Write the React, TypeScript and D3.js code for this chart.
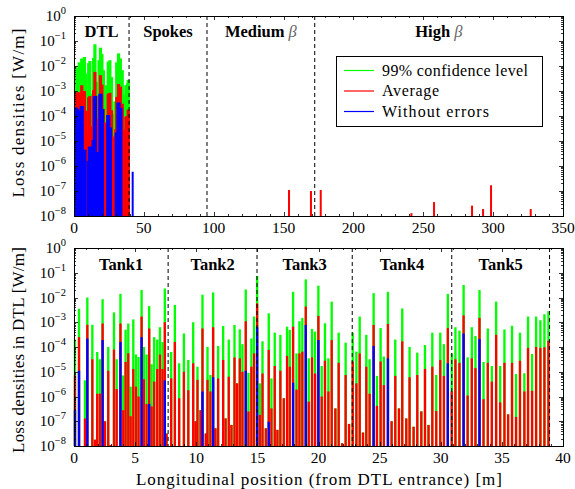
import React from "react";
import * as d3 from "d3";

// ---- DTL bars (bottom panel, also drawn in top panel) ----
const dtlPos = [
  0.08, 0.41, 0.9, 1.09, 1.5, 1.72, 1.9, 2.12, 2.34, 2.53, 2.8, 3.0, 3.27, 3.49, 3.8, 4.03, 4.22, 4.44, 4.63, 4.85,
  5.07, 5.28, 5.53, 5.72, 5.94, 6.15, 6.35, 6.56, 6.81, 7.03, 7.24, 7.43, 7.57,
  7.95, 8.25, 8.6, 8.99, 9.35, 9.75, 9.94, 10.1, 10.35, 10.51, 10.78, 10.92, 11.16, 11.38, 11.57, 11.79, 12.2,
  12.4, 12.66, 12.88, 13.13, 13.34, 13.56, 13.78, 14.05, 14.27, 14.51, 14.73, 14.98,
  15.2, 15.42, 15.69, 15.93, 16.15, 16.42, 16.64, 16.88, 17.16, 17.43, 17.65, 17.92, 18.2, 18.44, 18.68, 18.96,
  19.2, 19.47, 19.72, 19.99, 20.26, 20.53, 20.81, 21.08, 21.38, 21.65, 21.93, 22.22, 22.5,
  22.8, 23.1, 23.37, 23.64, 23.91, 24.18, 24.51, 24.78, 25.08, 25.35, 25.68, 25.98, 26.28, 26.58, 26.85, 27.18,
  27.45, 27.78, 28.08, 28.41, 28.71, 29.0, 29.31, 29.63, 29.96, 30.26, 30.58, 30.9,
  31.2, 31.53, 31.87, 32.2, 32.54, 32.84, 33.17, 33.5, 33.85, 34.18, 34.53, 34.86, 35.21, 35.51, 35.83, 36.16,
  36.48, 36.84, 37.14, 37.47, 37.8, 38.15, 38.48, 38.81,
];
const dtl99 = [
  2.0e-4, 3.5e-3, 4.5e-6, 1.0e-2, 7.9e-4, 1.8e-8, 6.3e-5, 3.2e-5, 8.5e-3, 1.0e-7, 1.0e-4, 1.1e-8, 2.5e-3, 3.2e-5, 1.4e-2, 7.1e-6, 5.0e-4, 8.9e-4, 2.5e-6, 1.3e-3,
  5.0e-5, 4.0e-5, 2.0e-2, 1.0e-4, 5.0e-5, 4.5e-3, 2.0e-5, 2.5e-4, 2.0e-4, 6.3e-4, 1.6e-4, 2.3e-2, 3.2e-8,
  6.3e-5, 5.0e-3, 2.2e-5, 3.5e-4, 3.0e-5, 1.0e-3, 1.0e-7, 1.6e-5, 2.8e-7, 1.3e-2, 3.2e-8, 1.0e-4, 7.4e-6, 1.6e-2, 5.2e-8, 1.1e-4, 7.1e-4,
  1.3e-7, 2.0e-4, 7.1e-8, 7.8e-4, 3.4e-6, 5.2e-4, 1.3e-4, 2.1e-2, 9.1e-6, 2.2e-4, 1.7e-3, 7.4e-2,
  3.4e-6, 1.7e-4, 5.2e-8, 2.3e-3, 5.4e-6, 3.8e-4, 4.5e-8, 3.1e-4, 8.5e-7, 6.6e-4, 4.9e-4, 1.7e-2, 5.5e-5, 1.1e-3, 1.5e-3, 5.4e-2,
  3.5e-5, 5.4e-4, 4.2e-4, 3.0e-2, 1.7e-5, 9.1e-4, 3.5e-5, 6.8e-3, 3.3e-7, 3.8e-4, 1.3e-8, 1.5e-4, 7.8e-8,
  3.8e-4, 6.5e-5, 1.7e-3, 3.5e-8, 3.1e-4, 3.2e-5, 1.5e-2, 6.8e-6, 5.8e-4, 4.1e-5, 1.7e-2, 1.0e-7, 2.0e-4, 3.3e-7, 3.6e-3, 1.3e-7,
  1.0e-4, 6.0e-8, 5.9e-5, 2.5e-7, 1.2e-4, 7.1e-8, 3.8e-4, 7.4e-6, 3.8e-4, 1.3e-4, 1.4e-2, 5.5e-5,
  6.3e-4, 4.6e-4, 3.2e-2, 3.8e-5, 6.3e-4, 2.8e-4, 2.0e-2, 2.5e-5, 5.6e-4, 1.7e-5, 6.8e-3, 1.7e-5, 5.1e-4, 1.9e-7, 7.2e-4, 8.1e-6,
  3.8e-4, 8.7e-6, 1.7e-3, 5.2e-5, 1.7e-3, 1.2e-3, 2.1e-3, 2.8e-3,
];
const dtlAvg = [
  7.1e-6, 2.5e-4, 1.3e-7, 7.9e-4, 3.2e-5, 1.8e-8, 1.3e-6, 1.3e-6, 8.9e-4, 1.0e-7, 1.1e-5, 1.1e-8, 7.9e-5, 2.0e-6, 8.9e-4, 2.8e-7, 2.5e-5, 5.6e-5, 1.6e-7, 1.3e-5,
  2.5e-6, 1.0e-6, 1.7e-3, 5.0e-6, 5.0e-7, 5.6e-4, 4.0e-7, 4.0e-6, 1.3e-5, 5.0e-5, 1.3e-5, 1.0e-3, 3.2e-8,
  5.4e-6, 1.6e-4, 8.5e-7, 1.0e-5, 1.8e-6, 2.2e-5, 1.0e-7, 4.7e-6, 2.8e-7, 5.6e-4, 3.2e-8, 4.7e-6, 1.6e-6, 6.3e-4, 5.2e-8, 5.4e-6, 3.0e-5,
  1.3e-7, 6.3e-6, 7.1e-8, 3.8e-5, 3.4e-6, 3.5e-5, 1.0e-5, 1.1e-3, 2.5e-7, 1.6e-5, 5.5e-5, 5.8e-3,
  1.8e-7, 8.5e-6, 5.2e-8, 7.6e-5, 3.3e-7, 1.7e-5, 4.5e-8, 1.1e-5, 8.5e-7, 4.4e-5, 1.6e-5, 6.6e-4, 1.9e-6, 5.5e-5, 6.5e-5, 4.3e-3,
  6.2e-7, 3.8e-5, 8.5e-6, 1.8e-3, 1.0e-6, 2.8e-5, 1.6e-6, 1.9e-4, 3.3e-7, 2.3e-5, 1.3e-8, 7.4e-6, 7.8e-8,
  2.6e-5, 3.4e-6, 5.5e-5, 3.5e-8, 1.6e-5, 1.3e-6, 7.8e-4, 4.2e-7, 2.6e-5, 2.9e-6, 8.5e-4, 1.0e-7, 6.8e-6, 3.3e-7, 1.7e-4, 1.3e-7,
  6.0e-6, 6.0e-8, 7.4e-6, 2.5e-7, 1.3e-5, 7.1e-8, 1.6e-5, 2.6e-7, 3.0e-5, 6.8e-6, 5.8e-4, 1.6e-6,
  3.2e-5, 2.3e-5, 1.9e-3, 1.1e-6, 3.5e-5, 1.4e-5, 1.5e-3, 7.8e-7, 2.3e-5, 4.0e-6, 3.1e-4, 5.8e-7, 2.3e-5, 1.9e-7, 2.3e-5, 1.5e-7,
  2.8e-5, 1.6e-6, 9.3e-5, 1.7e-6, 1.0e-4, 9.3e-5, 9.8e-5, 1.8e-4,
];
// "Without errors" (0 = below the axis)
const dtlNoErr = [
  2.8e-7, 1.1e-5, 0, 2.2e-4, 0, 0, 0, 0, 1.9e-4, 0, 0, 0, 0, 0, 1.6e-4, 0, 0, 0, 0, 0,
  0, 0, 2.5e-4, 0, 0, 5.0e-7, 0, 0, 0, 0, 0, 4.5e-6, 0,
  0, 0, 0, 0, 0, 0, 0, 0, 0, 1.6e-6, 0, 0, 0, 6.0e-6, 0, 0, 0,
  0, 0, 0, 0, 0, 0, 0, 1.1e-5, 0, 0, 0, 6.3e-4,
  0, 0, 0, 9.5e-8, 0, 0, 0, 0, 0, 0, 0, 3.6e-6, 0, 0, 0, 7.8e-4,
  0, 0, 0, 1.9e-4, 0, 0, 0, 0, 0, 0, 0, 0, 0,
  0, 0, 0, 0, 0, 0, 1.1e-4, 0, 0, 0, 3.5e-5, 0, 0, 0, 0, 0,
  0, 0, 0, 0, 0, 0, 0, 0, 0, 0, 2.2e-5, 0,
  0, 0, 3.5e-4, 0, 0, 0, 2.1e-4, 0, 0, 0, 0, 0, 0, 0, 0, 0,
  0, 0, 0, 0, 0, 0, 0, 0,
];

// ---- other sections of the top panel ----
const spokesPos = [42];
const spokesNoErr = [5.9e-7];
const ellipticalPos = [153.9, 169.6, 176.6, 241.5, 257.7, 284.9, 292.8, 298.5, 326.9];
const ellipticalAvg = [1.1e-7, 1.0e-7, 1.1e-7, 1.3e-8, 3.6e-8, 2.6e-8, 1.9e-8, 1.7e-7, 1.9e-8];

const sectionBounds = [0, 39.4, 95.2, 172.3, 350];
const sectionNames = ["DTL", "Spokes", "Medium", "High"];
const sectionBeta = [false, false, true, true];
const tankBounds = [0, 7.7, 14.97, 22.76, 30.9, 38.9];
const tankNames = ["Tank1", "Tank2", "Tank3", "Tank4", "Tank5"];

const topXTicks = [0, 50, 100, 150, 200, 250, 300, 350];
const botXTicks = [0, 5, 10, 15, 20, 25, 30, 35, 40];
const yExponents = [0, -1, -2, -3, -4, -5, -6, -7, -8];

const legendNames = ["99% confidence level", "Average", "Without errors"];
const legendColors = ["#00ff00", "#ff0000", "#0000ff"];
const legendWidths = [146, 57, 107];

const FONT = "'Liberation Serif', 'DejaVu Serif', serif";
const GREEN = "#00ff00";
const RED = "#ff0000";
const BLUE = "#0000ff";

const L = 74, R = 563;

function Axes({ x, y, majors, minorStep, top, bottom }) {
  const [d0, d1] = x.domain();
  const minors = d3.range(d0, d1 + 1e-9, minorStep).filter((v) => !majors.includes(v));
  const yMinor = [];
  yExponents.forEach((e) => {
    if (e === 0) return;
    for (let k = 2; k <= 9; k++) yMinor.push(k * Math.pow(10, e));
  });
  const seg = [];
  majors.forEach((v) => {
    const px = Math.round(x(v)) + 0.5;
    seg.push([px, bottom, px, bottom - 4]);
    seg.push([px, top, px, top + 4]);
  });
  minors.forEach((v) => {
    const px = Math.round(x(v)) + 0.5;
    seg.push([px, bottom, px, bottom - 2]);
    seg.push([px, top, px, top + 2]);
  });
  yExponents.forEach((e) => {
    const py = Math.round(y(Math.pow(10, e))) + 0.5;
    seg.push([L, py, L + 4, py]);
    seg.push([R, py, R - 4, py]);
  });
  yMinor.forEach((v) => {
    const py = Math.round(y(v)) + 0.5;
    seg.push([L, py, L + 2, py]);
    seg.push([R, py, R - 2, py]);
  });
  return (
    <g>
      {seg.map((s, i) => (
        <line key={i} x1={s[0]} y1={s[1]} x2={s[2]} y2={s[3]} stroke="#000" strokeWidth={0.8} />
      ))}
      <rect x={L + 0.5} y={top + 0.5} width={R - L} height={bottom - top} fill="none" stroke="#000" strokeWidth={1} />
      {majors.map((v) => (
        <text key={v} x={x(v)} y={bottom + 17} textAnchor="middle" fontFamily={FONT} fontSize={15.5}>
          {v}
        </text>
      ))}
      {yExponents.map((e) => (
        <text key={e} x={66} y={y(Math.pow(10, e)) + 5} textAnchor="end" fontFamily={FONT} fontSize={15}>
          10
          <tspan dy={-7} fontSize={10.5}>
            {e === 0 ? "0" : "\u2212" + Math.abs(e)}
          </tspan>
        </text>
      ))}
    </g>
  );
}

export default function App() {
  const xTop = d3.scaleLinear().domain([0, 350]).range([L, R]);
  const yTop = d3.scaleLog().domain([1e-8, 1]).range([216, 16]);
  const xBot = d3.scaleLinear().domain([0, 40]).range([L, R]);
  const yBot = d3.scaleLog().domain([1e-8, 1]).range([446, 248]);

  const barW = xBot(0.19) - xBot(0);

  const barsFor = (xs, ys, vals, color, w, base, keyp) =>
    vals.map((v, i) =>
      v > 1e-8 ? (
        <rect
          key={keyp + i}
          x={xs(dtlPos[i]) - w / 2}
          y={ys(v)}
          width={w}
          height={base - ys(v)}
          fill={color}
        />
      ) : null
    );

  return (
    <svg width={575} height={489} style={{ position: "absolute", left: 0, top: 0, background: "#fff" }}>
      <rect x={0} y={0} width={575} height={489} fill="#fff" />
      {/* ---------- TOP PANEL ---------- */}
      <g>
        <clipPath id="topclip">
          <rect x={L} y={16} width={R - L} height={200} />
        </clipPath>
        <g clipPath="url(#topclip)">
          {barsFor(xTop, yTop, dtl99, GREEN, 3.2, 216, "tg")}
          {barsFor(xTop, yTop, dtlAvg, RED, 3.2, 216, "tr")}
          {barsFor(xTop, yTop, dtlNoErr, BLUE, 4.2, 216, "tb")}
        </g>
        {spokesPos.map((p, i) => (
          <rect key={"sp" + i} x={xTop(p) - 1} y={yTop(spokesNoErr[i])} width={2} height={216 - yTop(spokesNoErr[i])} fill={BLUE} />
        ))}
        {ellipticalPos.map((p, i) => (
          <rect key={"el" + i} x={xTop(p) - 1} y={yTop(ellipticalAvg[i])} width={2} height={216 - yTop(ellipticalAvg[i])} fill={RED} />
        ))}
        {sectionBounds.slice(1, -1).map((b) => (
          <line key={b} x1={xTop(b)} x2={xTop(b)} y1={16} y2={216} stroke="#000" strokeWidth={1} strokeDasharray="4,3" />
        ))}
        {sectionNames.map((n, i) => (
          <text
            key={n}
            x={xTop((sectionBounds[i] + sectionBounds[i + 1]) / 2)}
            y={37}
            textAnchor="middle"
            fontFamily={FONT}
            fontSize={16.5}
            fontWeight="bold"
          >
            {n}
            {sectionBeta[i] ? (
              <tspan fontWeight="normal" fontStyle="italic" fill="#666">
                {" \u03b2"}
              </tspan>
            ) : null}
          </text>
        ))}
        <Axes x={xTop} y={yTop} majors={topXTicks} minorStep={10} top={16} bottom={216} />
        {/* legend */}
        <rect x={336.5} y={56.5} width={206} height={70} fill="#fff" stroke="#000" strokeWidth={1} />
        {legendNames.map((n, i) => (
          <g key={n}>
            <line x1={344} x2={374} y1={70.5 + i * 20.5} y2={70.5 + i * 20.5} stroke={legendColors[i]} strokeWidth={1.2} />
            <text
              x={382}
              y={75.5 + i * 20.5}
              fontFamily={FONT}
              fontSize={16}
              textLength={legendWidths[i]}
              lengthAdjust="spacing"
            >
              {n}
            </text>
          </g>
        ))}
        <text
          transform="translate(24,113) rotate(-90)"
          textAnchor="middle"
          fontFamily={FONT}
          fontSize={17}
          textLength={169}
          lengthAdjust="spacing"
        >
          Loss densities [W/m]
        </text>
      </g>

      {/* ---------- BOTTOM PANEL ---------- */}
      <g>
        {barsFor(xBot, yBot, dtl99, GREEN, barW, 446, "bg")}
        {barsFor(xBot, yBot, dtlAvg, RED, barW, 446, "br")}
        {barsFor(xBot, yBot, dtlNoErr, BLUE, barW, 446, "bb")}
        {tankBounds.slice(1).map((b) => (
          <line key={b} x1={xBot(b)} x2={xBot(b)} y1={248} y2={446} stroke="#000" strokeWidth={1} strokeDasharray="4,3" />
        ))}
        {tankNames.map((n, i) => (
          <text
            key={n}
            x={xBot((tankBounds[i] + tankBounds[i + 1]) / 2)}
            y={270}
            textAnchor="middle"
            fontFamily={FONT}
            fontSize={16.5}
            fontWeight="bold"
          >
            {n}
          </text>
        ))}
        <Axes x={xBot} y={yBot} majors={botXTicks} minorStep={1} top={248} bottom={446} />
        <text
          transform="translate(24,350) rotate(-90)"
          textAnchor="middle"
          fontFamily={FONT}
          fontSize={17}
          textLength={206}
          lengthAdjust="spacing"
        >
          Loss densities in DTL [W/m]
        </text>
        <text
          x={319}
          y={485}
          textAnchor="middle"
          fontFamily={FONT}
          fontSize={17}
          textLength={366}
          lengthAdjust="spacing"
        >
          Longitudinal position (from DTL entrance) [m]
        </text>
      </g>
    </svg>
  );
}
